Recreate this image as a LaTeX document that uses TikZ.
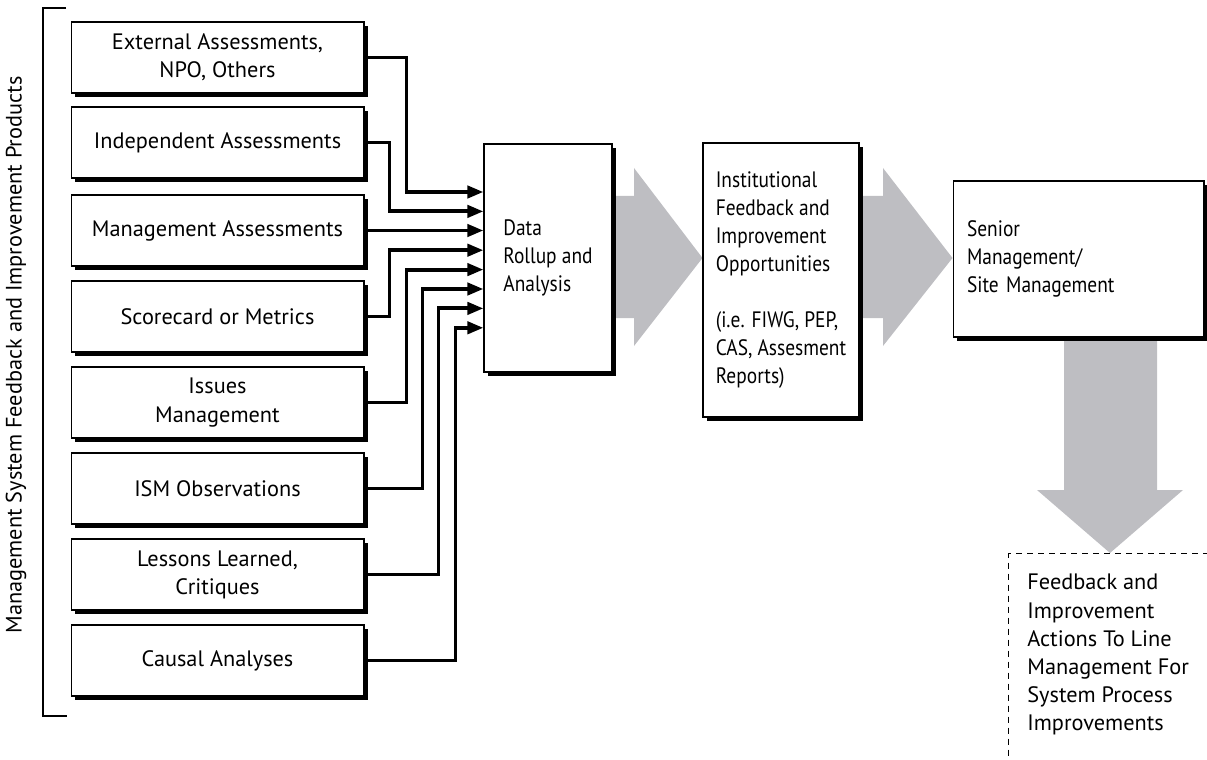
\documentclass[tikz,border=0pt]{standalone}
\usepackage{fontspec}
\setmainfont{PT Sans}
\newfontfamily\narrowfont[FakeStretch=0.87]{PT Sans}
\usetikzlibrary{arrows.meta,shadows,backgrounds}
\definecolor{flowgray}{RGB}{190,190,194}

\begin{document}
\begin{tikzpicture}[x=0.02cm, y=-0.02cm,
    every node/.style={font=\fontsize{12.7}{16}\selectfont},
    boxshadow/.style={drop shadow={shadow xshift=2.4pt, shadow yshift=-2.4pt, fill=black, opacity=1}},
    srcbox/.style={draw, fill=white, line width=0.6pt, minimum width=5.86cm, minimum height=1.42cm, align=center, boxshadow},
    flowbox/.style={draw, fill=white, line width=0.6pt, align=left, boxshadow,
        font=\narrowfont\fontsize{12.7}{16}\selectfont},
    feed/.style={line width=2.2pt, -{Triangle[length=0.32cm,width=0.24cm]}},
    bigarrow/.style={fill=flowgray},
    actline/.style={line width=0.7pt, dash pattern=on 0.12cm off 0.1cm}]

    \clip (0,0) rectangle (1207,760);

    % === Side label and bracket ===
    \node[rotate=90] (products) at (16,355) {Management System Feedback and Improvement Products};
    \draw[line width=0.8pt] (66,8) -- (43,8) -- (43,716) -- (67,716);

    % === Input boxes ===
    \node[srcbox] (s1) at (217.5,57.5) {External Assessments,\\NPO, Others};
    \node[srcbox] (s2) at (217.5,142.5) {Independent Assessments};
    \node[srcbox] (s3) at (217.5,230.5) {Management Assessments};
    \node[srcbox] (s4) at (217.5,316.5) {Scorecard or Metrics};
    \node[srcbox] (s5) at (217.5,402.5) {Issues\\Management};
    \node[srcbox] (s6) at (217.5,488.5) {ISM Observations};
    \node[srcbox] (s7) at (217.5,574.5) {Lessons Learned,\\Critiques};
    \node[srcbox] (s8) at (217.5,660.5) {Causal Analyses};

    % === Process boxes ===
    \node[flowbox, minimum width=2.56cm, minimum height=4.56cm] (data) at (548,258) {Data\\Rollup and\\Analysis};
    \node[flowbox, minimum width=3.12cm, minimum height=5.48cm] (inst) at (781,280)
        {Institutional\\Feedback and\\Improvement\\Opportunities\\[16pt](i.e. FIWG, PEP,\\CAS, Assesment\\Reports)};
    \node[flowbox, text width=4.46cm, inner xsep=0.28cm, minimum height=3.12cm] (senior) at (1078.5,259)
        {Senior\\Management/\\Site Management};

    % === Output box (dashed, runs off the page) ===
    \node[actline, draw, anchor=north west, minimum width=5cm, minimum height=5cm] (actions) at (1008,553) {};
    \node[anchor=north west, inner sep=0pt, align=left] (acttext) at (1027,574)
        {Feedback and\\Improvement\\Actions To Line\\Management For\\System Process\\Improvements};

    % === Inputs into data rollup ===
    \draw[feed] (s1.east) -- ++(42,0) |- (data.west |- 0,192);
    \draw[feed] (s2.east) -- ++(25,0) |- (data.west |- 0,211.4);
    \draw[feed] (s3.east) -- (data.west |- s3.east);
    \draw[feed] (s4.east) -- ++(25,0) |- (data.west |- 0,250.2);
    \draw[feed] (s5.east) -- ++(42,0) |- (data.west |- 0,269.6);
    \draw[feed] (s6.east) -- ++(58,0) |- (data.west |- 0,289);
    \draw[feed] (s7.east) -- ++(74,0) |- (data.west |- 0,308.4);
    \draw[feed] (s8.east) -- ++(91,0) |- (data.west |- 0,327.8);

    % === Big gray arrows ===
    \begin{scope}[on background layer]
    \fill[bigarrow] (data.east |- 0,196) -- (634,196) -- (634,168) -- (inst.west |- data.east)
        -- (634,346) -- (634,318) -- (data.east |- 0,318) -- cycle;
    \fill[bigarrow] (inst.east |- 0,196) -- (883,196) -- (883,168) -- (senior.west |- data.east)
        -- (883,346) -- (883,318) -- (inst.east |- 0,318) -- cycle;
    \fill[bigarrow] (1064,0 |- senior.south) -- (1064,490) -- (1037,490) -- (1110,0 |- actions.north)
        -- (1183,490) -- (1157,490) -- (1157,0 |- senior.south) -- cycle;
    \end{scope}
\end{tikzpicture}
\end{document}
